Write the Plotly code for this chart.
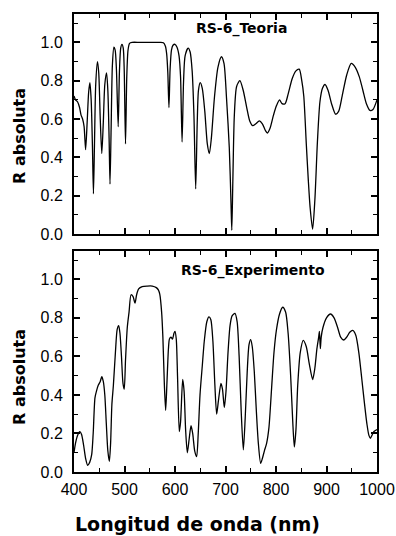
import plotly.graph_objects as go

# Theoretical reflectance spectrum (wavelength nm, absolute R)
teoria_nm = [400, 403, 407, 411, 414, 417, 420, 423, 426, 429, 431.5, 434, 436.5, 438.5,
             440.5, 443, 446.5, 449, 452, 455, 458, 461, 464.5, 467, 469.5, 471.3, 473.5,
             476, 479, 481.5, 484, 487.5, 490, 492.5, 495, 497.5, 499.5, 502, 504.5, 507,
             510, 515, 530, 550, 570, 577, 581, 583.5, 585.8, 588, 590.3, 593, 596, 600,
             604, 608, 611, 614, 617, 620, 626, 630, 634, 637.5, 641, 644, 646.5, 650, 654,
             659, 664, 668, 672, 678, 685, 692, 697, 702, 707.5, 711, 712.5, 714.5, 717.5,
             722, 728.5, 735, 742, 748, 754, 760, 767, 773, 779, 783, 788, 795, 801, 807,
             812, 818, 824, 832, 839, 846, 851, 855, 860, 864, 867.5, 872.5, 877, 882, 887,
             892, 897, 903, 910, 918, 924, 931, 940, 949, 957, 965, 972, 979, 986, 992, 1000]
teoria_r = [0.72, 0.70, 0.69, 0.66, 0.62, 0.60, 0.56, 0.44, 0.58, 0.74, 0.79, 0.70, 0.46, 0.21,
            0.46, 0.78, 0.90, 0.84, 0.60, 0.42, 0.58, 0.78, 0.84, 0.75, 0.50, 0.26, 0.55,
            0.88, 0.975, 0.96, 0.86, 0.56, 0.85, 0.97, 0.99, 0.97, 0.85, 0.47, 0.82, 0.96,
            0.995, 1.0, 1.0, 1.0, 1.0, 0.998, 0.98, 0.94, 0.84, 0.66, 0.86, 0.96, 0.985, 0.99,
            0.975, 0.93, 0.82, 0.48, 0.80, 0.93, 0.97, 0.95, 0.85, 0.62, 0.235, 0.58, 0.75, 0.79, 0.76,
            0.64, 0.47, 0.42, 0.50, 0.71, 0.87, 0.925, 0.89, 0.71, 0.45, 0.15, 0.02, 0.27, 0.62,
            0.77, 0.80, 0.75, 0.66, 0.59, 0.565, 0.575, 0.59, 0.575, 0.54, 0.527, 0.55, 0.62, 0.67, 0.70,
            0.68, 0.68, 0.73, 0.81, 0.85, 0.86, 0.80, 0.72, 0.47, 0.28, 0.14, 0.025, 0.18, 0.48, 0.69,
            0.76, 0.78, 0.75, 0.68, 0.625, 0.64, 0.72, 0.83, 0.89, 0.87, 0.82, 0.75, 0.68, 0.645, 0.65, 0.70]

# Measured reflectance spectrum
exp_nm = [400, 403, 407, 411.5, 415, 419, 423, 427, 431, 435, 438, 441.5, 444.5, 448, 452, 455,
          458, 461, 464, 467, 470, 472.5, 475, 478, 482, 485.5, 488.5, 491, 494, 497, 499.5,
          502, 505.5, 509, 513, 517, 520.8, 524, 528, 535, 545, 555, 563, 567, 570, 573.5, 576,
          579, 581.5, 584, 587, 589, 592, 595, 598, 600, 602.5, 605, 608.5, 611, 615.2, 618,
          621, 624.4, 628, 631.7, 635, 639, 642.9, 646, 649.5, 654, 658, 663, 667.3, 671, 675,
          679, 682.5, 686, 691, 694, 697.7, 701, 705, 709, 713, 718.8, 723, 727, 731, 735.3, 739,
          743, 746.5, 749.8, 753, 757, 761, 765, 769.6, 773, 777, 781.5, 786, 791.4, 796, 801,
          807, 813.2, 819, 824, 829, 833, 836.3, 839.5, 843, 848, 854, 860, 866, 872.6, 877, 881,
          884.5, 886, 887.8, 889.5, 893, 900, 908, 915, 922, 928, 934, 940, 946, 952, 958, 964,
          970, 975, 980, 984, 987, 990, 994, 1000]
exp_r = [0.10, 0.15, 0.19, 0.21, 0.195, 0.14, 0.07, 0.035, 0.05, 0.09, 0.20, 0.385, 0.42, 0.45,
         0.47, 0.495, 0.47, 0.40, 0.25, 0.11, 0.055, 0.15, 0.35, 0.45, 0.62, 0.74, 0.76, 0.72, 0.60,
         0.46, 0.43, 0.58, 0.75, 0.83, 0.92, 0.91, 0.876, 0.92, 0.95, 0.962, 0.965, 0.965, 0.957,
         0.945, 0.92, 0.83, 0.70, 0.45, 0.32, 0.46, 0.64, 0.69, 0.70, 0.69, 0.72, 0.73, 0.69, 0.50,
         0.21, 0.26, 0.48, 0.42, 0.22, 0.10, 0.17, 0.24, 0.20, 0.11, 0.08, 0.20, 0.40, 0.55, 0.68,
         0.78, 0.805, 0.79, 0.68, 0.45, 0.30, 0.37, 0.46, 0.43, 0.335, 0.42, 0.62, 0.76, 0.81,
         0.823, 0.78, 0.60, 0.32, 0.115, 0.28, 0.52, 0.66, 0.687, 0.65, 0.52, 0.32, 0.15, 0.045,
         0.07, 0.11, 0.15, 0.23, 0.44, 0.62, 0.74, 0.82, 0.855, 0.83, 0.72, 0.50, 0.27, 0.13,
         0.22, 0.45, 0.62, 0.683, 0.65, 0.56, 0.48, 0.54, 0.64, 0.70, 0.73, 0.64, 0.70, 0.75,
         0.80, 0.82, 0.80, 0.75, 0.70, 0.685, 0.70, 0.725, 0.735, 0.71, 0.62, 0.48, 0.36, 0.25,
         0.19, 0.175, 0.19, 0.21, 0.22]

x_ticks = [400, 500, 600, 700, 800, 900, 1000]
y_ticks = [0.0, 0.2, 0.4, 0.6, 0.8, 1.0]

W, H = 396, 536
FONT = "Liberation Sans, Arial, sans-serif"
BOLD_FONT = "DejaVu Sans, Arial, sans-serif"

fig = go.Figure()
line = dict(color="black", width=1.3, shape="spline", smoothing=0.7)
fig.add_trace(go.Scatter(x=teoria_nm, y=teoria_r, mode="lines", line=line,
                         xaxis="x", yaxis="y", showlegend=False))
fig.add_trace(go.Scatter(x=exp_nm, y=exp_r, mode="lines", line=line,
                         xaxis="x2", yaxis="y2", showlegend=False))

def px_x(p):
    return p / W

def px_y(p):
    return 1 - p / H

x_dom = [px_x(74), px_x(377)]
xcommon = dict(range=[400, 1000], tickvals=x_ticks, ticks="inside", ticklen=6, tickwidth=1.5,
               tickcolor="black", mirror="allticks", showline=True, linecolor="black",
               linewidth=2, showgrid=False, zeroline=False, domain=x_dom, automargin=False,
               minor=dict(dtick=50, tick0=400, ticks="inside", ticklen=4, tickwidth=1.2,
                          tickcolor="black", showgrid=False),
               tickfont=dict(family=FONT, size=16, color="black"))
ycommon = dict(tickvals=y_ticks, tickformat=".1f", ticks="inside", ticklen=6, tickwidth=1.5,
               tickcolor="black", mirror="allticks", showline=True, linecolor="black",
               linewidth=2, showgrid=False, zeroline=False, ticklabelstandoff=6,
               automargin=False,
               minor=dict(dtick=0.1, tick0=0, ticks="inside", ticklen=4, tickwidth=1.2,
                          tickcolor="black", showgrid=False),
               tickfont=dict(family=FONT, size=16, color="black"))

fig.update_layout(
    width=W, height=H, margin=dict(l=0, r=0, t=0, b=0),
    paper_bgcolor="white", plot_bgcolor="white",
    xaxis=dict(xcommon, anchor="y", showticklabels=False),
    yaxis=dict(ycommon, anchor="x", range=[0, 1.148], domain=[px_y(234), px_y(14)]),
    xaxis2=dict(xcommon, anchor="y2", showticklabels=True, ticklabelstandoff=2),
    yaxis2=dict(ycommon, anchor="x2", range=[0, 1.147], domain=[px_y(472), px_y(251)]),
)


def label(text, x, y, size, angle=0):
    return dict(text=text, x=px_x(x), y=px_y(y), xref="paper", yref="paper",
                xanchor="center", yanchor="middle", showarrow=False, textangle=angle,
                font=dict(family=BOLD_FONT, size=size, color="black"))


fig.update_layout(annotations=[
    label("<b>RS-6_Teoria</b>", 241, 29, 14),
    label("<b>RS-6_Experimento</b>", 252.5, 270, 14),
    label("<b>R absoluta</b>", 19, 136, 16, -90),
    label("<b>R absoluta</b>", 19, 377, 16, -90),
    label("<b>Longitud de onda (nm)</b>", 197, 524, 19),
])

fig.write_html("out.html")
